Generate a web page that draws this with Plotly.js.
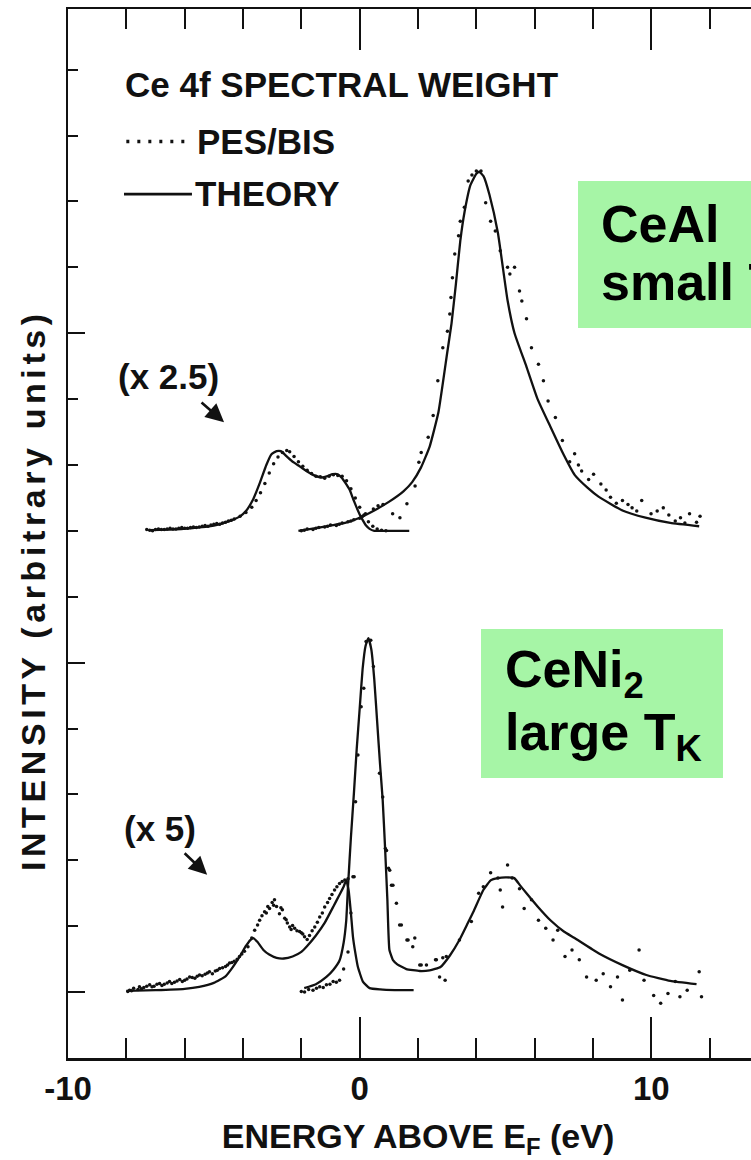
<!DOCTYPE html>
<html><head><meta charset="utf-8">
<script src="https://cdn.plot.ly/plotly-3.0.1.min.js"></script>
<style>
html,body{margin:0;padding:0;overflow:hidden;background:#fff;}
#chart{width:800px;height:1160px;}
.annotation[data-index="0"] text{letter-spacing:4.6px;}
</style></head><body><div id="chart"></div>
<script>
// ---- axis tick labels ----
const xTickVals = [-10, 0, 10];
const xTickText = ["-10", "0", "10"];

// ---- vertical offsets of the two spectra (arbitrary units) ----
const ceAlOffset = 7;
const ceNi2Offset = 0;

// ---- CeAl : PES (x 2.5) ----
const ceAlPesTheoryE = [-7.2,-6.5,-5.8,-5.0,-4.4,-4.1,-3.9,-3.65,-3.43,-3.2,-3.03,-2.85,-2.7,-2.5,-2.3,-2.06,-1.8,-1.6,-1.3,-1.1,-0.93,-0.75,-0.6,-0.45,-0.34,-0.22,-0.11,0.0,0.11,0.22,0.34,0.5,0.9,1.3,1.7];
const ceAlPesTheoryI = [0.01,0.02,0.04,0.08,0.16,0.22,0.30,0.48,0.72,1.00,1.16,1.21,1.21,1.13,1.05,0.98,0.90,0.85,0.81,0.83,0.86,0.86,0.80,0.70,0.62,0.48,0.36,0.25,0.16,0.08,0.03,0.0,0.0,0.0,0.0];
const ceAlPesDataE = [-7.3,-7.1,-6.9,-6.7,-6.5,-6.3,-6.1,-5.9,-5.7,-5.5,-5.3,-5.1,-4.9,-4.7,-4.5,-4.3,-4.1,-3.9,-3.7,-3.55,-3.4,-3.25,-3.1,-2.95,-2.8,-2.65,-2.5,-2.4,-2.25,-2.1,-1.95,-1.8,-1.65,-1.5,-1.35,-1.2,-1.05,-0.9,-0.75,-0.6,-0.45,-0.3,-0.15,0.0,0.15,0.3,0.45,0.6,0.75,0.9,-7.2,-7.0,-6.8,-6.6,-6.4,-6.2,-6.0,-5.8,-5.6,-5.4,-5.2,-5.0,-4.8,-4.6,-4.4];
const ceAlPesDataI = [0.02,0.00,0.03,0.02,0.04,0.03,0.05,0.04,0.06,0.06,0.08,0.09,0.11,0.12,0.15,0.18,0.22,0.28,0.36,0.46,0.58,0.72,0.88,1.02,1.12,1.19,1.22,1.20,1.13,1.05,0.98,0.92,0.87,0.83,0.82,0.80,0.83,0.85,0.84,0.83,0.76,0.64,0.50,0.36,0.24,0.14,0.07,0.03,0.01,0.00,0.01,0.02,0.02,0.03,0.03,0.04,0.04,0.05,0.05,0.07,0.07,0.10,0.10,0.13,0.16];

// ---- CeAl : BIS ----
const ceAlBisTheoryE = [-2.1,-1.5,-1.0,-0.5,0.0,0.5,1.0,1.5,1.8,2.1,2.4,2.7,3.0,3.15,3.3,3.45,3.6,3.8,4.0,4.1,4.25,4.45,4.74,5.07,5.31,5.72,6.1,6.54,7.0,7.37,7.8,8.19,9.01,9.8,10.65,11.64];
const ceAlBisTheoryI = [0.0,0.04,0.08,0.12,0.20,0.31,0.44,0.60,0.74,0.96,1.28,1.80,2.70,3.15,3.75,4.40,4.85,5.25,5.42,5.45,5.38,5.10,4.52,3.50,3.00,2.49,2.00,1.58,1.15,0.85,0.66,0.52,0.31,0.20,0.12,0.07];
const ceAlBisDataE = [-2.0,-1.8,-1.6,-1.4,-1.2,-1.0,-0.8,-0.6,-0.4,-0.2,0.0,0.2,0.47,0.63,0.8,1.13,1.38,1.62,1.9,2.03,2.11,2.35,2.52,2.68,2.85,3.01,3.09,3.13,3.18,3.26,3.39,3.45,3.59,3.72,3.85,4.0,4.16,4.32,4.49,4.65,4.82,5.07,5.15,5.31,5.48,5.56,5.72,5.89,6.13,6.30,6.46,6.71,6.95,7.2,7.37,7.61,7.85,8.02,8.27,8.45,8.6,9.01,9.2,9.34,9.67,9.99,10.2,10.41,10.82,11.0,11.31,11.55,11.67,-1.9,-1.5,-1.1,-0.7,-0.3,0.1,7.5,8.8,9.5,10.6,11.15];
const ceAlBisDataI = [0.00,0.03,0.02,0.05,0.06,0.09,0.08,0.12,0.14,0.17,0.19,0.26,0.33,0.38,0.40,0.26,0.20,0.41,0.68,1.04,1.19,1.42,1.75,2.28,2.78,3.03,3.29,3.54,3.84,4.20,4.48,4.70,4.91,5.31,5.40,5.46,5.46,4.98,4.70,4.55,4.25,4.00,3.90,4.00,3.64,3.49,3.22,2.78,2.53,2.28,1.97,1.72,1.37,1.05,1.17,0.91,0.78,0.86,0.71,0.62,0.51,0.46,0.40,0.35,0.46,0.26,0.30,0.35,0.15,0.20,0.26,0.13,0.22,0.01,0.04,0.07,0.10,0.15,0.22,1.00,0.42,0.30,0.24,0.12];

// ---- CeNi2 : PES (x 5) ----
const ceNi2PesTheoryE = [-8.0,-7.0,-6.0,-5.5,-5.0,-4.6,-4.35,-4.1,-3.9,-3.75,-3.65,-3.5,-3.3,-3.1,-2.85,-2.6,-2.3,-2.0,-1.8,-1.5,-1.2,-0.9,-0.7,-0.55,-0.46,-0.38,-0.3,-0.23,-0.15,-0.06,0.11,0.34,0.7,1.2,1.85];
const ceNi2PesTheoryI = [0.02,0.03,0.05,0.08,0.14,0.24,0.38,0.55,0.70,0.79,0.82,0.76,0.64,0.57,0.52,0.51,0.54,0.61,0.70,0.86,1.05,1.30,1.47,1.60,1.70,1.55,1.20,0.84,0.60,0.38,0.16,0.06,0.04,0.03,0.03];
const ceNi2PesDataE = [-7.95,-7.89,-7.75,-7.6,-7.55,-7.4,-7.2,-7.05,-6.86,-6.7,-6.52,-6.35,-6.17,-6.0,-5.83,-5.65,-5.49,-5.3,-5.15,-4.95,-4.8,-4.6,-4.46,-4.3,-4.12,-3.95,-3.83,-3.7,-3.6,-3.5,-3.43,-3.35,-3.26,-3.15,-3.09,-3.0,-2.92,-2.85,-2.75,-2.65,-2.57,-2.48,-2.4,-2.3,-2.23,-2.15,-2.06,-1.95,-1.89,-1.8,-1.72,-1.63,-1.54,-1.45,-1.37,-1.28,-1.2,-1.1,-1.03,-0.95,-0.86,-0.78,-0.69,-0.6,-0.51,-0.4,-0.23,-7.82,-7.48,-7.3,-7.12,-6.95,-6.78,-6.6,-6.44,-6.26,-6.08,-5.92,-5.74,-5.57,-5.4,-5.22,-5.05,-4.88,-4.7,-4.53,-4.38,-4.2,-4.04,-3.2,-2.95,-2.7,-2.52,-2.35,-2.0];
const ceNi2PesDataI = [0.01,0.03,0.06,0.04,0.08,0.07,0.11,0.09,0.13,0.12,0.16,0.15,0.19,0.18,0.23,0.21,0.26,0.27,0.31,0.32,0.36,0.39,0.44,0.47,0.54,0.62,0.69,0.82,0.94,1.02,1.09,1.16,1.22,1.30,1.27,1.36,1.40,1.30,1.19,1.25,1.12,1.05,0.99,1.01,0.97,0.93,0.92,0.88,0.84,0.80,0.86,0.93,0.99,1.06,1.14,1.20,1.29,1.36,1.42,1.48,1.55,1.60,1.65,1.68,1.70,1.72,1.75,0.02,0.05,0.09,0.08,0.12,0.10,0.14,0.13,0.17,0.16,0.20,0.22,0.24,0.25,0.29,0.28,0.33,0.37,0.41,0.45,0.50,0.58,1.20,1.32,1.28,1.10,0.95,0.90];

// ---- CeNi2 : BIS ----
const ceNi2BisTheoryE = [-1.9,-1.5,-1.14,-0.9,-0.69,-0.55,-0.46,-0.4,-0.3,-0.2,-0.1,0.0,0.1,0.2,0.3,0.4,0.5,0.6,0.7,0.79,0.87,0.95,1.02,1.15,1.29,1.6,2.06,2.4,2.77,3.1,3.42,3.7,3.92,4.24,4.5,4.74,5.0,5.3,5.5,5.72,6.1,6.54,7.0,7.37,8.19,9.01,9.83,10.65,11.55];
const ceNi2BisTheoryI = [0.06,0.12,0.23,0.34,0.48,0.75,1.09,1.60,2.35,3.00,3.70,4.30,4.90,5.25,5.37,5.20,4.75,4.10,3.45,2.91,2.20,1.40,0.64,0.48,0.42,0.35,0.32,0.33,0.38,0.56,0.79,1.04,1.24,1.55,1.70,1.73,1.74,1.73,1.62,1.50,1.30,1.09,0.92,0.82,0.59,0.41,0.26,0.17,0.12];
const ceNi2BisDataE = [-2.0,-1.89,-1.75,-1.6,-1.48,-1.37,-1.25,-1.14,-1.02,-0.91,-0.8,-0.69,-0.55,-0.4,-0.3,-0.19,-0.14,-0.06,0.05,0.14,0.22,0.38,0.47,0.68,0.79,0.88,0.92,0.99,1.03,1.09,1.14,1.26,1.37,1.43,1.62,1.66,1.82,1.89,2.06,2.11,2.29,2.6,2.63,2.74,2.85,2.93,2.97,3.42,3.83,4.08,4.24,4.49,4.74,4.82,4.9,5.07,5.23,5.48,5.64,5.89,6.13,6.38,6.63,6.79,7.04,7.28,7.53,7.78,8.11,8.35,8.6,8.84,9.01,9.26,9.58,9.75,10.08,10.32,10.57,10.82,10.98,11.23,11.64,11.72];
const ceNi2BisDataI = [0.01,0.00,0.04,0.03,0.06,0.08,0.07,0.11,0.12,0.16,0.15,0.18,0.35,0.61,1.20,1.75,2.89,3.60,4.33,4.61,5.32,5.34,4.94,3.32,2.96,2.18,2.15,1.88,1.85,1.62,1.62,1.35,1.02,1.02,0.79,0.79,0.69,0.82,0.41,0.41,0.41,0.49,0.49,0.23,0.52,0.18,0.54,0.79,1.07,1.50,1.60,1.81,1.73,1.55,1.29,1.93,1.73,1.57,1.27,1.40,1.09,0.97,0.79,0.94,0.54,0.64,0.49,0.23,0.18,0.28,0.08,0.23,-0.12,0.33,0.64,0.18,-0.05,-0.17,-0.02,0.16,-0.07,0.03,0.31,-0.07];

// ---- text ----
const yTitle = "INTENSITY (arbitrary units)";
const xTitle = "ENERGY ABOVE E<sub>F</sub> (eV)";
const legendTitle = "Ce 4f SPECTRAL WEIGHT";
const legendData = "PES/BIS";
const legendTheory = "THEORY";

const ink = '#111';
const off = (arr, o) => arr.map(v => v + o);
const theory = (x, y) => ({x, y, type:'scatter', mode:'lines', line:{color:ink, width:2.3, shape:'spline', smoothing:0.4}, hoverinfo:'skip'});
const dots = (x, y) => ({x, y, type:'scatter', mode:'markers', marker:{color:ink, size:3.5}, hoverinfo:'skip'});

const traces = [
  theory(ceAlPesTheoryE, off(ceAlPesTheoryI, ceAlOffset)),
  dots(ceAlPesDataE, off(ceAlPesDataI, ceAlOffset)),
  theory(ceAlBisTheoryE, off(ceAlBisTheoryI, ceAlOffset)),
  dots(ceAlBisDataE, off(ceAlBisDataI, ceAlOffset)),
  theory(ceNi2PesTheoryE, off(ceNi2PesTheoryI, ceNi2Offset)),
  dots(ceNi2PesDataE, off(ceNi2PesDataI, ceNi2Offset)),
  theory(ceNi2BisTheoryE, off(ceNi2BisTheoryI, ceNi2Offset)),
  dots(ceNi2BisDataE, off(ceNi2BisDataI, ceNi2Offset))
];

const fam = '"Liberation Sans", Arial, Helvetica, sans-serif';
const green = '#a6f5a6';
const txt = (size) => ({size, family:fam, color:ink, weight:'bold'});

const layout = {
  width: 800, height: 1160,
  margin: {l:68, r:32, t:9, b:102},
  paper_bgcolor:'#fff', plot_bgcolor:'#fff',
  showlegend:false,
  font:{family:fam, color:ink, size:34},
  xaxis:{
    range:[-10,14], tickmode:'array', tickvals:xTickVals, ticktext:xTickText,
    ticks:'inside', ticklen:41, tickwidth:2.2, tickcolor:ink,
    minor:{tickmode:'linear', tick0:0, dtick:2, ticks:'inside', ticklen:20, tickwidth:2, tickcolor:ink},
    showline:true, linewidth:2.5, linecolor:ink, mirror:'allticks',
    showgrid:false, zeroline:false, tickfont:txt(33),
    title:{text:xTitle, font:txt(34), standoff:20}
  },
  yaxis:{
    range:[-1.0,14.92], tickmode:'linear', tick0:0, dtick:5,
    ticks:'inside', ticklen:17, tickwidth:2.2, tickcolor:ink,
    minor:{tickmode:'linear', tick0:0, dtick:1, ticks:'inside', ticklen:10, tickwidth:2, tickcolor:ink},
    showline:true, linewidth:2.5, linecolor:ink, mirror:'allticks',
    showgrid:false, zeroline:false, showticklabels:false
  },
  shapes:[
    {type:'line', xref:'x', yref:'y', x0:-8.0, x1:-5.82, y0:12.91, y1:12.91, line:{color:ink, width:3.5, dash:'3px,8px'}},
    {type:'line', xref:'x', yref:'y', x0:-8.08, x1:-5.75, y0:12.11, y1:12.11, line:{color:ink, width:2.8}},
    {type:'rect', xref:'paper', yref:'paper', x0:0.7286, x1:1.2, y0:0.6959, y1:0.8360, fillcolor:green, line:{width:0}, layer:'above'},
    {type:'rect', xref:'paper', yref:'paper', x0:0.59, x1:0.9357, y0:0.2669, y1:0.4090, fillcolor:green, line:{width:0}, layer:'above'}
  ],
  annotations:[
    {xref:'paper', yref:'paper', x:(33-68)/700, y:(1058-590)/1049, text:yTitle, textangle:-90, showarrow:false, xanchor:'center', yanchor:'middle', font:txt(34)},
    {xref:'x', yref:'y', x:-8.1, y:13.77, text:legendTitle, showarrow:false, xanchor:'left', yanchor:'middle', font:txt(35)},
    {xref:'x', yref:'y', x:-5.65, y:12.91, text:legendData, showarrow:false, xanchor:'left', yanchor:'middle', font:txt(35)},
    {xref:'x', yref:'y', x:-5.72, y:12.12, text:legendTheory, showarrow:false, xanchor:'left', yanchor:'middle', font:txt(35)},
    {xref:'x', yref:'y', x:-6.57, y:9.35, text:'(x 2.5)', showarrow:false, xanchor:'center', yanchor:'middle', font:txt(35)},
    {xref:'x', yref:'y', x:-4.65, y:8.65, text:'', showarrow:true, ax:-24, ay:-21, arrowhead:2, arrowsize:1.4, arrowwidth:2.6, arrowcolor:ink},
    {xref:'x', yref:'y', x:-6.85, y:2.49, text:'(x 5)', showarrow:false, xanchor:'center', yanchor:'middle', font:txt(35)},
    {xref:'x', yref:'y', x:-5.23, y:1.78, text:'', showarrow:true, ax:-24, ay:-23, arrowhead:2, arrowsize:1.4, arrowwidth:2.6, arrowcolor:ink},
    {xref:'x', yref:'y', x:8.2, y:11.66, text:'<b>CeAl</b>', showarrow:false, xanchor:'left', yanchor:'middle', font:{size:52, family:fam, color:'#000'}},
    {xref:'x', yref:'y', x:8.2, y:10.72, text:'<b>small T<sub>K</sub></b>', showarrow:false, xanchor:'left', yanchor:'middle', font:{size:52, family:fam, color:'#000'}},
    {xref:'x', yref:'y', x:4.91, y:4.84, text:'<b>CeNi<sub>2</sub></b>', showarrow:false, xanchor:'left', yanchor:'middle', font:{size:52, family:fam, color:'#000'}},
    {xref:'x', yref:'y', x:4.91, y:3.89, text:'<b>large T<sub>K</sub></b>', showarrow:false, xanchor:'left', yanchor:'middle', font:{size:52, family:fam, color:'#000'}}
  ]
};

Plotly.newPlot('chart', traces, layout, {staticPlot:true, displayModeBar:false});
</script></body></html>
